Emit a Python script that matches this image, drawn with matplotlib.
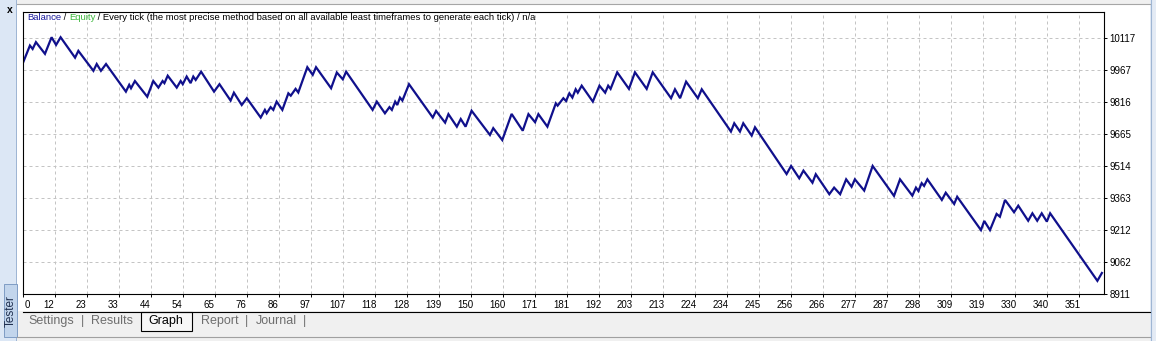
import matplotlib
matplotlib.use("Agg")
import matplotlib.pyplot as plt
import matplotlib.transforms as mtransforms
from matplotlib.patches import Rectangle
import numpy as np

# balance curve: vertices of the zigzag (trade number, balance)
trade = [0, 2.3, 3.2, 4.3, 7.3, 9.5, 11.0, 12.5, 17.3, 18.4, 23.4, 24.5, 25.9, 27.6,
         34.2, 35.3, 35.9, 37.2, 41.3, 43.3, 45.0, 46.4, 47.0, 48.1, 51.1, 52.4,
         53.1, 54.4, 55.7, 56.6, 57.4, 59.2, 63.5, 65.3, 69.0, 70.1, 72.7, 74.4,
         79.0, 80.4, 81.0, 82.3, 83.2, 84.3, 86.2, 88.2, 89.0, 90.6, 91.5, 94.5,
         96.3, 97.4, 102.4, 104.3, 106.3, 107.4, 116.2, 117.6, 120.3, 121.8, 122.6,
         123.7, 124.4, 125.3, 126.1, 128.3, 136.2, 137.3, 140.3, 141.4, 144.2,
         145.5, 147.1, 149.1, 155.2, 156.3, 159.3, 162.4, 166.1, 168.0, 170.2,
         171.3, 174.3, 177.1, 177.7, 179.6, 180.5, 181.6, 182.6, 183.7, 184.4,
         185.7, 189.4, 191.6, 193.5, 194.5, 195.3, 197.5, 201.4, 203.4, 207.3,
         209.3, 215.4, 216.7, 218.4, 220.4, 224.3, 225.6, 235.3, 236.4, 238.3,
         239.4, 242.2, 243.3, 253.8, 255.3, 258.0, 259.4, 262.4, 263.5, 268.0,
         269.6, 271.6, 273.6, 275.4, 276.5, 279.6, 282.4, 289.5, 291.5, 295.6,
         296.8, 297.6, 298.7, 299.5, 300.6, 305.4, 306.7, 309.5, 310.5, 318.4,
         319.5, 321.4, 323.6, 324.7, 326.4, 329.4, 330.8, 334.1, 335.5, 337.1,
         338.6, 340.3, 341.4, 357.1, 358.6]
balance = [10000, 10081, 10065, 10097, 10042, 10120, 10084, 10120, 10024, 10056,
           9962, 9994, 9962, 9994, 9864, 9896, 9880, 9914, 9840, 9914, 9883, 9914,
           9904, 9939, 9883, 9914, 9899, 9935, 9904, 9935, 9919, 9958, 9864, 9899,
           9822, 9859, 9801, 9833, 9742, 9778, 9762, 9791, 9778, 9817, 9778, 9856,
           9845, 9877, 9860, 9979, 9943, 9979, 9880, 9954, 9922, 9958, 9778, 9817,
           9762, 9791, 9778, 9817, 9801, 9836, 9822, 9899, 9742, 9773, 9718, 9758,
           9699, 9735, 9699, 9774, 9660, 9692, 9636, 9759, 9680, 9758, 9720, 9758,
           9699, 9809, 9798, 9833, 9820, 9856, 9836, 9875, 9859, 9892, 9817, 9892,
           9859, 9892, 9877, 9955, 9877, 9955, 9877, 9955, 9833, 9875, 9833, 9911,
           9833, 9875, 9676, 9715, 9676, 9715, 9657, 9696, 9476, 9514, 9456, 9492,
           9435, 9475, 9381, 9412, 9381, 9451, 9416, 9451, 9398, 9514, 9373, 9451,
           9374, 9412, 9396, 9433, 9420, 9451, 9354, 9388, 9335, 9369, 9212, 9255,
           9212, 9288, 9275, 9354, 9296, 9327, 9256, 9291, 9256, 9291, 9252, 9291,
           8973, 9010]

x_labels = ["0", "12", "23", "33", "44", "54", "65", "76", "86", "97", "107", "118",
            "128", "139", "150", "160", "171", "181", "192", "203", "213", "224",
            "234", "245", "256", "266", "277", "287", "298", "309", "319", "330",
            "340", "351"]
y_labels = ["8911", "9062", "9212", "9363", "9514", "9665", "9816", "9967", "10117"]
tabs = ["Settings", "Results", "Graph", "Report", "Journal"]

FONT = "Liberation Sans"
W, H = 1156, 341
fig = plt.figure(figsize=(W / 100, H / 100), dpi=100)
fig.patch.set_facecolor("#f0f0f0")

# window chrome drawn in pixel coords
bg = fig.add_axes([0, 0, 1, 1])
bg.set_xlim(0, W)
bg.set_ylim(H, 0)
bg.axis("off")

def box(a, x, y, w, h, fc, ec="none", lw=0.0):
    a.add_patch(Rectangle((x, y), w, h, facecolor=fc, edgecolor=ec, lw=lw))

box(bg, 17, 4, 1133, 307, "white")
box(bg, 0, 0, 17, H, "#dce7f5")
box(bg, 16, 0, 1, H, "#9fb6d4")
box(bg, 4, 284, 13, 53, "#c2d5ec", ec="#7f9cc4", lw=0.7)
bg.text(10, 10, "x", fontsize=7.5, fontweight="bold", ha="center", va="center",
        family=FONT)
bg.text(10.5, 311, "Tester", rotation=90, fontsize=8.5, ha="center", va="center",
        color="#1f2f4f", family=FONT)
bg.plot([17, 1150], [3.5, 3.5], color="#a6a6a6", lw=0.8)
box(bg, 1150, 0, 6, H, "#e4ebf5")
bg.plot([1150.5, 1150.5], [0, H], color="#9fb6d4", lw=0.8)
bg.plot([23, 1150], [311.5, 311.5], color="black", lw=0.8)
bg.plot([17, 1150], [336.5, 336.5], color="#a0a0a0", lw=0.8)
box(bg, 140.5, 311.5, 51, 19, "#f7f7f7", ec="black", lw=0.8)

tab_x = [51, 112, 166, 220, 276]
for name, tx in zip(tabs, tab_x):
    bg.text(tx, 321, name, fontsize=9, ha="center", va="center", family=FONT,
            color="black" if name == "Graph" else "#6e6e6e")
for sx in [83, 247, 305]:
    bg.text(sx, 321, "|", fontsize=9, ha="center", va="center",
            family=FONT, color="#6e6e6e")

# chart
ax = fig.add_axes([23 / W, (H - 294) / H, 1081 / W, 282 / H])
ax.set_facecolor("white")
ax.plot(trade, balance, color="#10108c", lw=1.6, solid_joinstyle="miter")

x_ticks = np.linspace(0, 351, len(x_labels))
y_ticks = np.linspace(8911, 10117, len(y_labels))
ax.set_xlim(0, 359.3)
ax.set_ylim(8911, 10239)
ax.set_xticks(x_ticks)
ax.set_xticklabels(x_labels, family=FONT, fontsize=7)
ax.set_yticks(y_ticks)
ax.set_yticklabels(y_labels, family=FONT, fontsize=7)
ax.yaxis.tick_right()
ax.tick_params(axis="both", length=2, width=0.7, direction="out", pad=2)
ax.grid(True, color="#c4c4c4", lw=0.72, linestyle=(0, (3, 3)))
for s in ax.spines.values():
    s.set_color("black")
    s.set_linewidth(0.8)

for i, lab in enumerate(ax.get_xticklabels()):
    dx = 4 / 100 if i == 0 else -6 / 100
    lab.set_transform(lab.get_transform() +
                      mtransforms.ScaledTranslation(dx, 0, fig.dpi_scale_trans))

# overlay for the header line, above the chart
top = fig.add_axes([0, 0, 1, 1])
top.set_xlim(0, W)
top.set_ylim(H, 0)
top.axis("off")
top.patch.set_alpha(0)

parts = [("Balance", "#1a1a9c"), (" / ", "black"), ("Equity", "#3cb83c"),
         (" / Every tick (the most precise method based on all available least "
          "timeframes to generate each tick) / n/a", "black")]
renderer = fig.canvas.get_renderer()
x0 = 27
for txt, col in parts:
    t = top.text(x0, 18, txt, fontsize=6.8, color=col, ha="left", va="center",
                 family=FONT)
    x0 += t.get_window_extent(renderer).width

fig.savefig("out.png", dpi=100, facecolor=fig.get_facecolor())
